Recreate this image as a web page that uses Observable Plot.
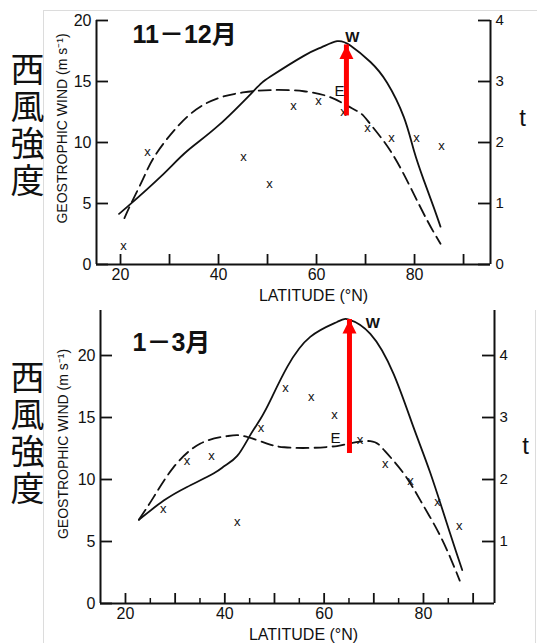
<!DOCTYPE html>
<html><head><meta charset="utf-8">
<script src="https://cdn.jsdelivr.net/npm/d3@7"></script>
<script src="https://cdn.jsdelivr.net/npm/@observablehq/plot@0.6"></script>
<style>
html,body{margin:0;padding:0;background:#fff;overflow:hidden;}
#wrap{position:relative;width:537px;height:643px;}
.panel{position:absolute;left:0;}
.cjk{position:absolute;font-family:"Noto Sans CJK JP","Noto Sans CJK SC",sans-serif;font-size:34px;line-height:44px;letter-spacing:3px;writing-mode:vertical-rl;color:#111;}
.edge{position:absolute;background:#dcdcdc;}
</style></head><body><div id="wrap">
<div class="edge" style="left:43px;top:10px;width:494px;height:1px"></div>
<div class="edge" style="left:43px;top:10px;width:1px;height:633px"></div>
<div class="edge" style="left:535px;top:310px;width:1px;height:333px"></div>
<div id="top" class="panel" style="top:0"></div>
<div id="bot" class="panel" style="top:300px"></div>
<div class="cjk" style="left:5px;top:52px">西風強度</div>
<div class="cjk" style="left:5px;top:360px">西風強度</div>
</div>
<script>
// ---------- data: 11–12月 ----------
const novTitle = "11－12月";
const novWLat  = [19.7, 21.6, 28.2, 33.6, 40.0, 47.1, 50.6, 57.4, 61.0, 64.2, 66.9, 71.0, 74.4, 77.8, 79.9, 81.9, 83.9, 85.3];
const novWWind = [4.15, 4.8, 7.2, 9.3, 11.4, 14.2, 15.4, 17.1, 17.8, 18.3, 17.95, 16.6, 14.9, 12.1, 9.3, 6.9, 4.7, 3.1];
const novELat  = [20.8, 22.4, 24.7, 27.5, 33.6, 39.7, 45.0, 50.6, 57.4, 62.9, 66.3, 69.0, 71.0, 75.1, 79.2, 82.6, 85.3];
const novEWind = [3.8, 5.2, 7.1, 9.2, 12.1, 13.6, 14.1, 14.3, 14.2, 13.7, 13.0, 12.4, 11.5, 9.3, 6.3, 3.6, 1.7];
const novXLat  = [20.6, 25.5, 45.1, 50.4, 55.3, 60.4, 65.5, 70.4, 75.3, 80.4, 85.5];
const novXWind = [1.5, 9.2, 8.8, 6.6, 13.0, 13.4, 12.5, 11.2, 10.4, 10.4, 9.7];
const novArrow = {lat: 66.1, from: 13.0, to: 18.0};
const novWLabel = {lat: 67.3, wind: 18.6};
const novELabel = {lat: 64.7, wind: 14.2};

// ---------- data: 1–3月 ----------
const janTitle = "1－3月";
const janWLat  = [22.7, 27.7, 32.4, 37.8, 40.0, 42.5, 45.0, 47.2, 49.2, 52.6, 57.2, 62.6, 65.0, 69.3, 74.0, 78.0, 81.4, 85.4, 87.8];
const janWWind = [6.75, 8.3, 9.4, 10.5, 11.1, 11.9, 13.5, 14.9, 16.4, 19.1, 21.5, 22.7, 22.9, 21.75, 18.5, 14.2, 10.5, 5.6, 2.7];
const janELat  = [22.7, 25.7, 29.7, 35.1, 40.5, 43.8, 48.5, 52.0, 57.2, 62.6, 65.0, 69.3, 72.0, 76.0, 79.4, 82.8, 85.4, 87.3];
const janEWind = [6.75, 8.6, 11.0, 12.9, 13.5, 13.5, 12.9, 12.6, 12.55, 12.7, 12.9, 13.1, 12.4, 10.5, 8.3, 5.9, 3.7, 1.85];
const janXLat  = [27.6, 32.4, 37.3, 42.5, 47.3, 52.2, 57.4, 62.1, 67.2, 72.3, 77.4, 82.8, 87.2];
const janXWind = [7.6, 11.5, 11.9, 6.6, 14.2, 17.4, 16.7, 15.2, 13.2, 11.3, 9.9, 8.2, 6.3];
const janArrow = {lat: 65.1, from: 12.9, to: 22.9};
const janWLabel = {lat: 69.8, wind: 22.6};
const janELabel = {lat: 62.3, wind: 13.3};

// ---------- axes ----------
const windTicks = [0, 5, 10, 15, 20];
const latLabels = [20, 40, 60, 80];
const latMajor = [20, 30, 40, 50, 60, 70, 80, 90];
const latMinor = [25, 35, 45, 55, 65, 75, 85];
const novTTicks = [0, 1, 2, 3, 4];
const janTTicks = [1, 2, 3, 4];
const windPerT = 5; // t scale: 1 unit of t = 5 m/s
const yLabel = "GEOSTROPHIC WIND (m s⁻¹)";
const xLabel = "LATITUDE (°N)";
const tLabel = "t";

const RED = "#ff0000";
const FONT = "'Liberation Sans', Arial, 'Noto Sans CJK JP', sans-serif";
const head = {draw(ctx){ ctx.moveTo(0,0); ctx.lineTo(-7,14); ctx.lineTo(7,14); ctx.closePath(); }};

function panel(o) {
  const fw = o.width - o.ml - o.mr, fh = o.height - o.mt - o.mb;
  const W = o.wLat.map((x, i) => ({x, y: o.wWind[i]}));
  const E = o.eLat.map((x, i) => ({x, y: o.eWind[i]}));
  const X = o.xLat.map((x, i) => ({x, y: o.xWind[i]}));
  const marks = [
    Plot.ruleX(o.xDomain, {strokeWidth: 2}),
    Plot.ruleY([0], {strokeWidth: 2}),
    Plot.tickX(latMajor, {x: d => d, insetTop: fh - 10, strokeWidth: 1.8}),
    Plot.tickY(windTicks, {y: d => d, insetRight: fw - 12, strokeWidth: 1.8}),
    Plot.tickY(o.tTicks, {y: t => t * windPerT, insetLeft: fw - 12, strokeWidth: 1.8}),
    Plot.text(latLabels, {x: d => d, text: d => String(d), frameAnchor: "bottom", lineAnchor: "top", dy: 4, fontSize: 16}),
    Plot.text(windTicks, {y: d => d, text: d => String(d), frameAnchor: "left", textAnchor: "end", dx: -5, fontSize: 16}),
    Plot.text(o.tTicks, {y: t => t * windPerT, text: t => String(t), frameAnchor: "right", textAnchor: "start", dx: 5, fontSize: 15}),
    Plot.text([yLabel], {frameAnchor: "left", textAnchor: "middle", lineAnchor: "middle", rotate: -90, dx: o.yLab[0], dy: o.yLab[1], fontSize: 14}),
    Plot.text([xLabel], {frameAnchor: "bottom", textAnchor: "middle", lineAnchor: "middle", dx: o.xLab[0], dy: o.xLab[1], fontSize: 16, letterSpacing: 1}),
    Plot.text([tLabel], {frameAnchor: "right", textAnchor: "middle", lineAnchor: "middle", dx: o.tLab[0], dy: o.tLab[1], fontSize: 24}),
    Plot.text([o.title], {frameAnchor: "top-left", textAnchor: "start", lineAnchor: "middle", dx: o.titlePos[0], dy: o.titlePos[1], fontSize: 25, fontWeight: "bold"}),
    Plot.line(W, {x: "x", y: "y", curve: "natural", strokeWidth: 1.8}),
    Plot.line(E, {x: "x", y: "y", curve: "natural", strokeWidth: 1.8, strokeDasharray: "12,6"}),
    Plot.text(X, {x: "x", y: "y", text: () => "x", fontSize: 13}),
    Plot.ruleX([o.arrow], {x: "lat", y1: "from", y2: "to", stroke: RED, strokeWidth: 5, insetTop: 10}),
    Plot.dot([o.arrow], {x: "lat", y: "to", symbol: head, r: 5, fill: RED, stroke: "none"}),
    Plot.text([o.wLab], {x: "lat", y: "wind", text: () => "W", fontSize: 15, fontWeight: "bold"}),
    Plot.text([o.eLab], {x: "lat", y: "wind", text: () => "E", fontSize: 15})
  ];
  if (o.minor) marks.splice(3, 0, Plot.tickX(latMinor, {x: d => d, insetTop: fh - 5, strokeWidth: 1.5}));
  return Plot.plot({
    width: o.width, height: o.height,
    marginLeft: o.ml, marginRight: o.mr, marginTop: o.mt, marginBottom: o.mb,
    x: {domain: o.xDomain, axis: null},
    y: {domain: o.yDomain, axis: null},
    style: {background: "transparent", overflow: "visible", fontFamily: FONT, fontSize: "16px", color: "#111"},
    marks
  });
}

document.getElementById("top").append(panel({
  width: 537, height: 300, ml: 96, mr: 47, mt: 20, mb: 36,
  xDomain: [15.1, 95.5], yDomain: [0, 20],
  wLat: novWLat, wWind: novWWind, eLat: novELat, eWind: novEWind, xLat: novXLat, xWind: novXWind,
  arrow: novArrow, wLab: novWLabel, eLab: novELabel, tTicks: novTTicks, title: novTitle,
  yLab: [-34, -14], xLab: [20, 31], tLab: [32, -24], titlePos: [36, 14], minor: false
}));
document.getElementById("bot").append(panel({
  width: 537, height: 343, ml: 100, mr: 43, mt: 10, mb: 40,
  xDomain: [14.97, 94.3], yDomain: [0, 23.63],
  wLat: janWLat, wWind: janWWind, eLat: janELat, eWind: janEWind, xLat: janXLat, xWind: janXWind,
  arrow: janArrow, wLab: janWLabel, eLab: janELabel, tTicks: janTTicks, title: janTitle,
  yLab: [-37, -13], xLab: [6, 31], tLab: [31, -11], titlePos: [32, 32], minor: true
}));
</script>
</body></html>
